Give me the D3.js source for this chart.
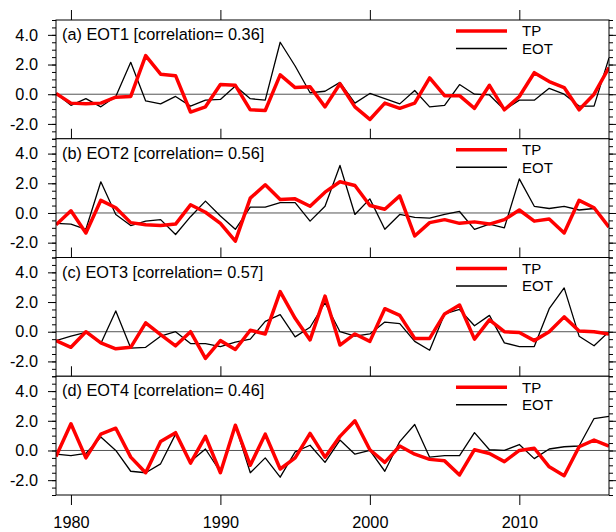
<!DOCTYPE html>
<html>
<head>
<meta charset="utf-8">
<script src="https://cdn.jsdelivr.net/npm/d3@7/dist/d3.min.js"></script>
<style>
  html, body { margin: 0; padding: 0; background: #fff; }
  svg { display: block; }
  text { font-family: "Liberation Sans", Arial, Helvetica, sans-serif; }
</style>
</head>
<body>
<svg id="chart" width="616" height="532"></svg>
<script>
const years = [1979,1980,1981,1982,1983,1984,1985,1986,1987,1988,
               1989,1990,1991,1992,1993,1994,1995,1996,1997,1998,
               1999,2000,2001,2002,2003,2004,2005,2006,2007,2008,
               2009,2010,2011,2012,2013,2014,2015,2016];

const titles = ["(a) EOT1 [correlation= 0.36]",
                "(b) EOT2 [correlation= 0.56]",
                "(c) EOT3 [correlation= 0.57]",
                "(d) EOT4 [correlation= 0.46]"];

const seriesNames = ["TP", "EOT"];

const tpA = [0.05,-0.6,-0.65,-0.6,-0.2,-0.15,2.6,1.35,1.25,-1.2,
             -0.85,0.65,0.6,-1.05,-1.1,1.3,0.45,0.5,-0.85,0.7,
             -0.85,-1.7,-0.6,-0.95,-0.6,1.1,-0.1,-0.1,-0.95,0.6,
             -1.05,-0.15,1.45,0.85,0.45,-1.05,0.0,1.8];
const eotA = [0.05,-0.75,-0.3,-0.85,-0.15,2.15,-0.45,-0.65,-0.15,-0.8,
              -0.4,-0.35,0.55,-0.3,-0.4,3.5,1.9,0.1,0.2,0.8,
              -0.6,0.05,-0.3,-0.65,0.25,-0.85,-0.75,0.65,0.0,-0.05,
              -1.05,-0.4,-0.4,0.4,0.0,-0.8,-0.8,2.45];

const tpB = [-0.8,0.15,-1.35,0.85,0.35,-0.65,-0.8,-0.85,-0.75,0.55,
             0.05,-0.7,-1.9,1.0,1.9,0.9,0.95,0.45,1.4,2.1,
             1.85,0.5,0.25,1.15,-1.55,-0.65,-0.45,-0.7,-0.6,-0.75,
             -0.45,0.2,-0.55,-0.4,-1.35,0.85,0.35,-0.95];
const eotB = [-0.7,-0.75,-1.1,2.1,-0.1,-0.85,-0.55,-0.45,-1.45,-0.25,
              0.8,-0.2,-1.1,0.4,0.4,0.7,0.7,-0.55,0.45,3.2,
              -0.1,0.95,-1.1,-0.1,-0.3,-0.35,-0.1,0.1,-1.1,-0.75,
              -1.0,2.3,0.45,0.3,0.45,0.2,0.3,-0.9];

const tpC = [-0.6,-1.05,0.0,-0.75,-1.15,-1.05,0.6,-0.2,-0.95,0.0,
             -1.8,-0.6,-1.2,0.1,-0.15,2.7,0.9,-0.55,2.4,-0.9,
             -0.15,-0.65,1.55,1.1,-0.45,-0.45,1.2,1.8,-0.5,0.8,
             0.0,-0.05,-0.6,0.0,1.0,0.05,0.0,-0.15];
const eotC = [-0.6,-0.3,-0.05,-0.8,1.4,-1.1,-1.05,-0.3,0.0,-0.8,
              -0.8,-1.0,-0.7,-0.5,0.7,1.15,-0.35,0.3,1.95,0.0,
              -0.3,-0.15,0.65,0.55,-0.65,-1.25,1.2,1.5,0.4,1.1,
              -0.75,-1.0,-1.0,1.55,2.95,-0.3,-0.95,0.0];

const tpD = [-0.4,1.8,-0.5,1.1,1.5,-0.45,-1.5,0.6,1.2,-0.85,
             0.95,-1.5,1.7,-1.0,1.1,-1.25,-0.5,1.15,-0.45,0.95,
             2.0,0.05,-0.8,0.3,-0.25,-0.6,-0.7,-1.65,0.05,-0.2,
             -0.75,0.0,0.15,-1.1,-1.7,0.25,0.7,0.3];
const eotD = [-0.25,-0.35,-0.2,0.9,0.0,-1.4,-1.5,-0.9,1.1,-0.75,
              0.1,-1.45,1.7,-1.5,-0.5,-1.8,-0.1,0.35,-0.8,0.7,
              -0.25,0.0,-1.4,0.6,1.75,-0.45,-0.35,-0.35,1.2,0.05,
              0.0,0.4,-0.55,0.1,0.25,0.3,2.15,2.3];

const yTickValues = [-2, 0, 2, 4];
const yTickLabels = ["-2.0", "0.0", "2.0", "4.0"];
const yMinorValues = [-3,-2.5,-2,-1.5,-1,-0.5,0,0.5,1,1.5,2,2.5,3,3.5,4,4.5,5];
const xTickValues = [1980, 1990, 2000, 2010];
const xTickLabels = ["1980", "1990", "2000", "2010"];

const panels = [
  {title: titles[0], tp: tpA, eot: eotA},
  {title: titles[1], tp: tpB, eot: eotB},
  {title: titles[2], tp: tpC, eot: eotC},
  {title: titles[3], tp: tpD, eot: eotD}
];

const svg = d3.select("#chart");
const left = 56, right = 609, top0 = 20, ph = 118.75;
const fs = 16.3;
const legFs = 15;

const x = d3.scaleLinear().domain([1979, 2016]).range([left, right]);

panels.forEach((p, i) => {
  const top = top0 + i * ph;
  const bot = top + ph;
  const y = d3.scaleLinear().domain([-3, 5]).range([bot, top]);
  const g = svg.append("g");

  g.append("rect").attr("x", left).attr("y", top).attr("width", right - left).attr("height", ph)
    .attr("fill", "#fff");

  const cid = "clip" + i;
  svg.append("clipPath").attr("id", cid).append("rect")
    .attr("x", left).attr("y", top).attr("width", right - left).attr("height", ph);

  // zero reference line
  g.append("line").attr("x1", left).attr("x2", right).attr("y1", y(0)).attr("y2", y(0))
    .attr("stroke", "#555").attr("stroke-width", 1);

  const line = d3.line().x((d, k) => x(years[k])).y(d => y(d));
  const lg = g.append("g").attr("clip-path", `url(#${cid})`);
  lg.append("path").datum(p.eot).attr("d", line).attr("fill", "none")
    .attr("stroke", "#000").attr("stroke-width", 1.3).attr("stroke-linejoin", "round");
  lg.append("path").datum(p.tp).attr("d", line).attr("fill", "none")
    .attr("stroke", "#ff0000").attr("stroke-width", 3.5).attr("stroke-linejoin", "round");

  // frame
  g.append("rect").attr("x", left).attr("y", top).attr("width", right - left).attr("height", ph)
    .attr("fill", "none").attr("stroke", "#000").attr("stroke-width", 1);

  // y ticks left & right
  const yAxisL = d3.axisLeft(y).tickValues(yMinorValues).tickSize(4).tickFormat("");
  const yAxisR = d3.axisRight(y).tickValues(yMinorValues).tickSize(4).tickFormat("");
  g.append("g").attr("transform", `translate(${left},0)`).call(yAxisL).call(s => s.select(".domain").remove());
  g.append("g").attr("transform", `translate(${right},0)`).call(yAxisR).call(s => s.select(".domain").remove());
  const yMajL = d3.axisLeft(y).tickValues(yTickValues).tickSize(8)
    .tickFormat((d, k) => yTickLabels[k]).tickPadding(10);
  const yMajR = d3.axisRight(y).tickValues(yTickValues).tickSize(8).tickFormat("");
  g.append("g").attr("transform", `translate(${left},0)`).call(yMajL)
    .call(s => s.select(".domain").remove())
    .call(s => s.selectAll("text").attr("font-size", fs).attr("fill", "#000")
      .style("font-family", '"Liberation Sans", Arial, sans-serif'));
  g.append("g").attr("transform", `translate(${right},0)`).call(yMajR).call(s => s.select(".domain").remove());

  // x ticks: top pointing up
  const xTop = d3.axisTop(x).tickValues(xTickValues).tickSize(10).tickFormat("");
  g.append("g").attr("transform", `translate(0,${top})`).call(xTop).call(s => s.select(".domain").remove());
  if (i === panels.length - 1) {
    const xBot = d3.axisBottom(x).tickValues(xTickValues).tickSize(10)
      .tickFormat((d, k) => xTickLabels[k]).tickPadding(11);
    g.append("g").attr("transform", `translate(0,${bot})`).call(xBot)
      .call(s => s.select(".domain").remove())
      .call(s => s.selectAll("text").attr("font-size", fs).attr("fill", "#000")
        .style("font-family", '"Liberation Sans", Arial, sans-serif'));
  }
  g.selectAll(".tick line").attr("stroke", "#000");

  // title
  g.append("text").attr("x", 62).attr("y", top + 20).attr("font-size", fs).attr("fill", "#000")
    .text(p.title);

  // legend
  const legY = [top + 11, top + 28.5];
  const legCol = ["#ff0000", "#000"];
  const legW = [3.5, 1.3];
  seriesNames.forEach((nm, k) => {
    g.append("line").attr("x1", 456).attr("x2", 507).attr("y1", legY[k]).attr("y2", legY[k])
      .attr("stroke", legCol[k]).attr("stroke-width", legW[k]);
    g.append("text").attr("x", 522).attr("y", legY[k]).attr("dy", "0.35em").attr("font-size", legFs)
      .attr("fill", "#000").text(nm);
  });
});
</script>
</body>
</html>
